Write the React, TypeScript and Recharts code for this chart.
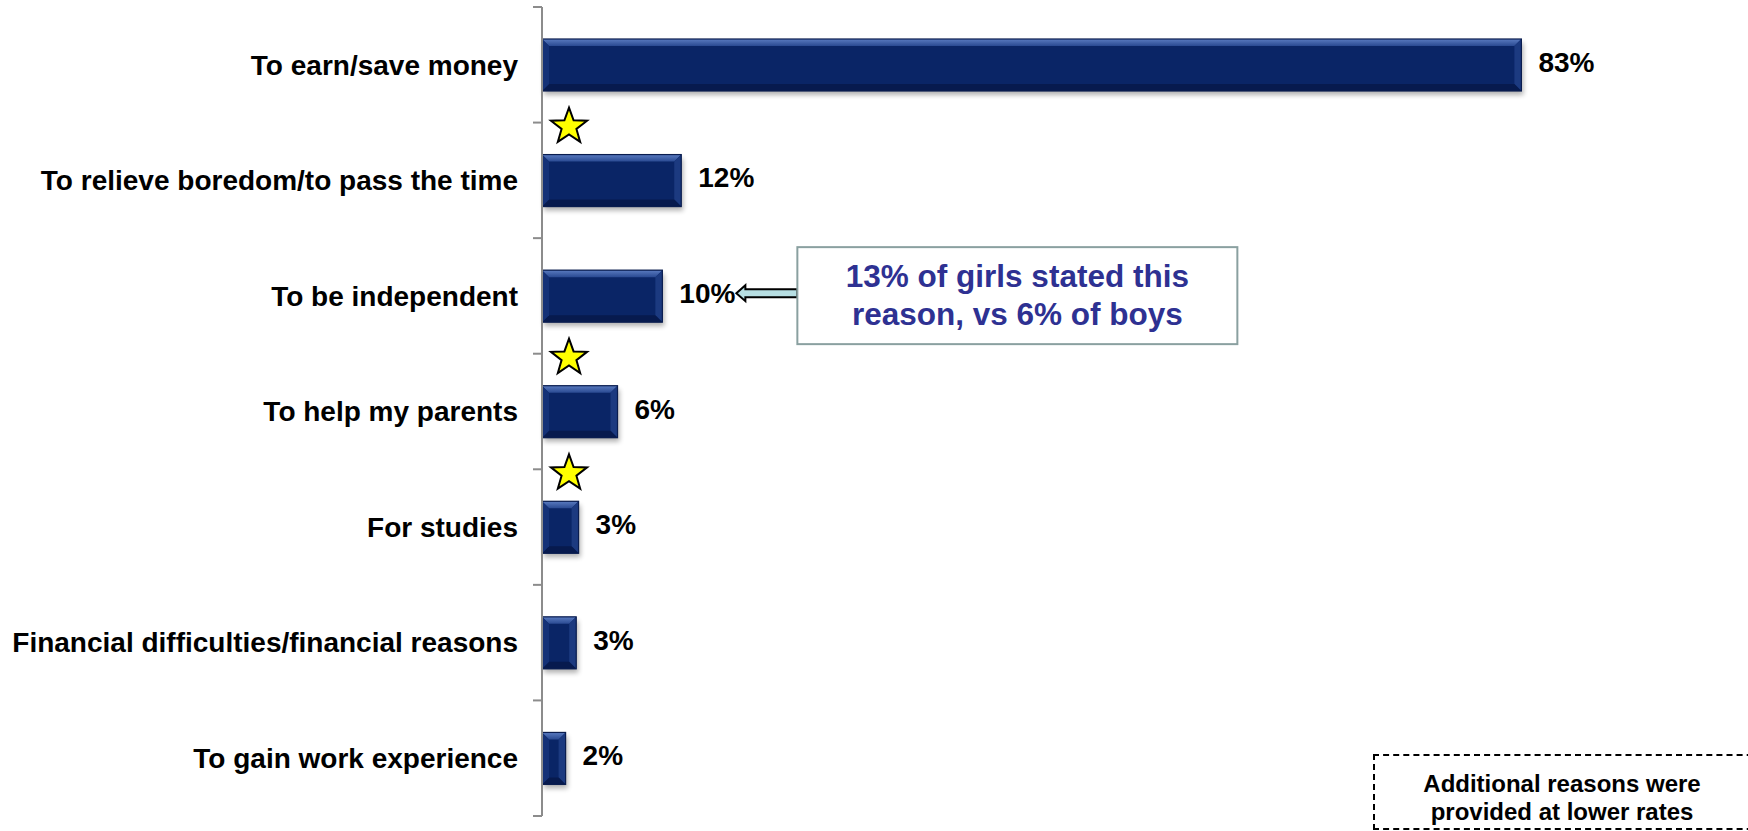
import React from 'react';
import { BarChart, Bar, XAxis, YAxis, LabelList } from 'recharts';

const categories = [
  'To earn/save money',
  'To relieve boredom/to pass the time',
  'To be independent',
  'To help my parents',
  'For studies',
  'Financial difficulties/financial reasons',
  'To gain work experience',
];
const values = [83, 11.8, 10.2, 6.4, 3.1, 2.9, 2.0];
const valueLabels = ['83%', '12%', '10%', '6%', '3%', '3%', '2%'];
const starred = [false, true, false, true, true, false, false];

const calloutIndex = 2;
const calloutLines = ['13% of girls stated this', 'reason, vs 6% of boys'];
const footnoteLines = ['Additional reasons were', 'provided at lower rates'];

const data = categories.map((name, i) => ({ name, value: values[i] }));

const FONT = '"Liberation Sans", Arial, sans-serif';
const TICK_SIZE = 9;
const TICK_MARGIN = 15;

const CategoryTick = (props: any) => {
  const { x, y, payload, index, height, visibleTicksCount } = props;
  const band = height / visibleTicksCount;
  const axisX = x + TICK_MARGIN + TICK_SIZE;
  return (
    <g>
      <line x1={axisX - TICK_SIZE} x2={axisX} y1={y - band / 2} y2={y - band / 2} stroke="#8c8c8c" strokeWidth={2} />
      {index === visibleTicksCount - 1 && (
        <line x1={axisX - TICK_SIZE} x2={axisX} y1={y + band / 2} y2={y + band / 2} stroke="#8c8c8c" strokeWidth={2} />
      )}
      <text x={x} y={y} dy="0.35em" textAnchor="end" fontFamily={FONT} fontWeight="bold" fontSize={28} fill="#000">
        {payload.value}
      </text>
    </g>
  );
};

const BevelBar = (props: any) => {
  const { x, y, width, height } = props;
  const b = Math.min(7, width / 2, height / 2);
  const r = x + width;
  const btm = y + height;
  return (
    <g>
      <defs>
        <filter id="barShadow" x="-10%" y="-30%" width="130%" height="180%">
          <feGaussianBlur stdDeviation="2.5" />
        </filter>
        <linearGradient id="topBevel" x1="0" y1="0" x2="0" y2="1">
          <stop offset="0%" stopColor="#5a7bc0" />
          <stop offset="100%" stopColor="#2a4a92" />
        </linearGradient>
      </defs>
      <rect x={x + 2} y={y + 4} width={width} height={height} fill="#000" opacity={0.3} filter="url(#barShadow)" />
      <rect x={x} y={y} width={width} height={height} fill="#0a2566" />
      <polygon points={`${x},${y} ${r},${y} ${r - b},${y + b} ${x + b},${y + b}`} fill="url(#topBevel)" />
      <polygon points={`${r},${y} ${r},${btm} ${r - b},${btm - b} ${r - b},${y + b}`} fill="#1c3a80" />
      <polygon points={`${x},${btm} ${r},${btm} ${r - b},${btm - b} ${x + b},${btm - b}`} fill="#071a4e" />
      <polygon points={`${x},${y} ${x + b},${y + b} ${x + b},${btm - b} ${x},${btm}`} fill="#143177" />
      <rect x={x} y={y} width={width} height={height} fill="none" stroke="#0a1d4f" strokeWidth={1.2} />
    </g>
  );
};

const starPoints = (cx: number, cy: number, R: number, r: number) => {
  const pts: string[] = [];
  for (let i = 0; i < 10; i++) {
    const rad = i % 2 === 0 ? R : r;
    const a = -Math.PI / 2 + (i * Math.PI) / 5;
    pts.push(`${cx + rad * Math.cos(a)},${cy + rad * Math.sin(a)}`);
  }
  return pts.join(' ');
};

const ValueLabel = (props: any) => {
  const { x, y, width, height, index } = props;
  const lx = x + width + 17;
  const cy = y + height / 2 - 3;
  return (
    <g>
      <text x={lx} y={cy} dy="0.35em" fontFamily={FONT} fontWeight="bold" fontSize={28} fill="#000">
        {valueLabels[index]}
      </text>
      {index === calloutIndex && (
        <g>
          <polygon
            points={`${lx + 57},${cy} ${lx + 66},${cy - 8} ${lx + 66},${cy - 4} ${lx + 118},${cy - 4} ${lx + 118},${cy + 4} ${lx + 66},${cy + 4} ${lx + 66},${cy + 8}`}
            fill="#b7dfe3"
            stroke="#000"
            strokeWidth={2}
          />
          <rect x={lx + 118} y={cy - 46} width={440} height={97} fill="#fff" stroke="#8aa0a0" strokeWidth={2} />
          {calloutLines.map((t, i) => (
            <text
              key={t}
              x={lx + 338}
              y={cy - 17 + i * 38}
              dy="0.35em"
              textAnchor="middle"
              fontFamily={FONT}
              fontWeight="bold"
              fontSize={31.5}
              fill="#2e3192"
            >
              {t}
            </text>
          ))}
        </g>
      )}
    </g>
  );
};

const StarLabel = (props: any) => {
  const { x, y, index } = props;
  if (!starred[index]) return null;
  return (
    <polygon
      points={starPoints(x + 27, y - 28, 19, 7.8)}
      fill="#ffff00"
      stroke="#000"
      strokeWidth={2}
      strokeLinejoin="miter"
    />
  );
};

export default function App() {
  return (
    <div style={{ position: 'absolute', left: 0, top: 0, width: 1748, height: 831, background: '#fff', overflow: 'hidden' }}>
      <BarChart
        width={1748}
        height={831}
        data={data}
        layout="vertical"
        margin={{ top: 7, right: 26, bottom: 15, left: 0 }}
      >
        <XAxis type="number" domain={[0, 100]} hide />
        <YAxis
          type="category"
          dataKey="name"
          width={542}
          interval={0}
          tickSize={TICK_SIZE}
          tickMargin={TICK_MARGIN}
          tickLine={false}
          axisLine={{ stroke: '#8c8c8c', strokeWidth: 2 }}
          tick={<CategoryTick />}
        />
        <Bar dataKey="value" barSize={52} shape={<BevelBar />} isAnimationActive={false}>
          <LabelList dataKey="value" content={<ValueLabel />} />
          <LabelList dataKey="value" content={<StarLabel />} />
        </Bar>
      </BarChart>
      <div
        style={{
          position: 'absolute',
          left: 1373,
          top: 754,
          width: 410,
          height: 76,
          border: '2px dashed #000',
          boxSizing: 'border-box',
          paddingTop: 14,
          paddingRight: 32,
          display: 'flex',
          flexDirection: 'column',
          justifyContent: 'flex-start',
          alignItems: 'center',
          fontFamily: FONT,
          fontWeight: 'bold',
          fontSize: 24,
          lineHeight: '28px',
          color: '#000',
        }}
      >
        {footnoteLines.map((t) => (
          <div key={t}>{t}</div>
        ))}
      </div>
    </div>
  );
}
